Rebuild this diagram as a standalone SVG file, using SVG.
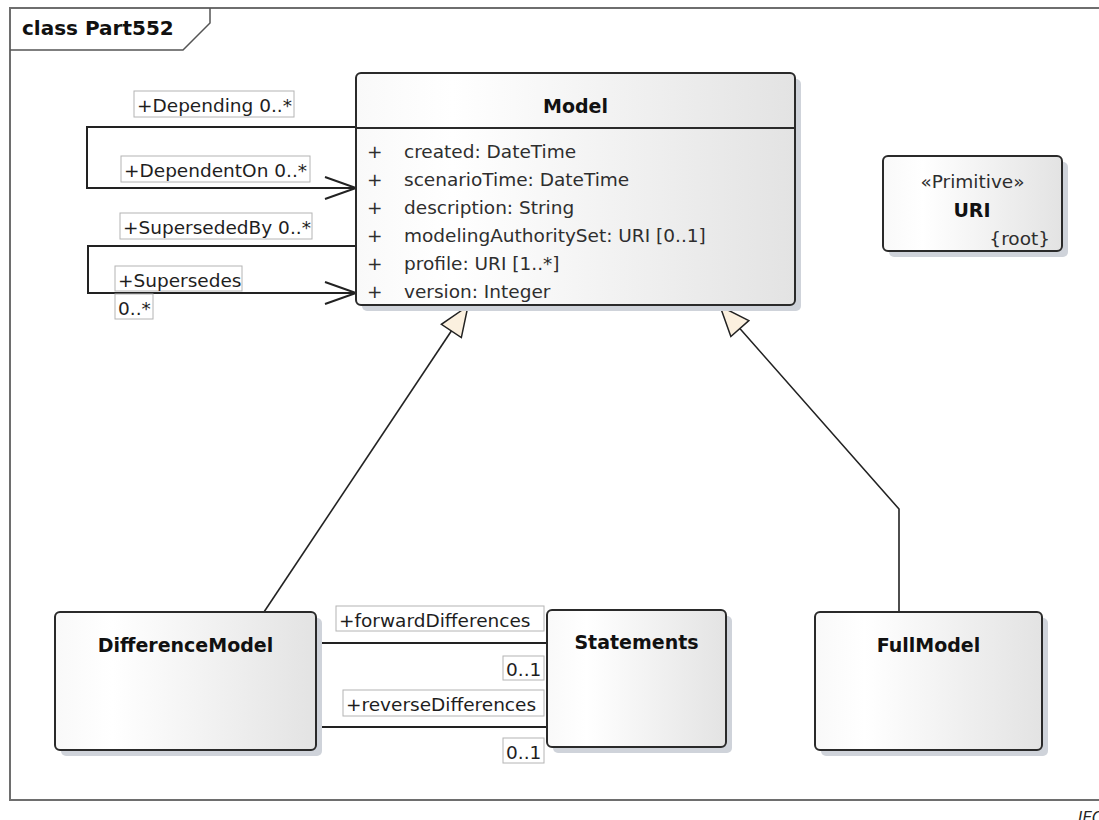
<svg xmlns="http://www.w3.org/2000/svg" width="1099" height="820" viewBox="0 0 1099 820">
  <defs>
    <linearGradient id="boxFill" x1="0" y1="0" x2="1" y2="0">
      <stop offset="0" stop-color="#f9f9f9"/>
      <stop offset="0.22" stop-color="#ffffff"/>
      <stop offset="1" stop-color="#e3e3e3"/>
    </linearGradient>
    <!-- hollow triangle for generalization -->
    <marker id="genHead" markerUnits="userSpaceOnUse" viewBox="-32 -14 34 28" refX="0" refY="0" markerWidth="34" markerHeight="28" orient="auto" overflow="visible">
      <path d="M0,0 L-30,-12 L-30,12 Z" fill="#fbf0df" stroke="#222" stroke-width="1.5" stroke-linejoin="miter"/>
    </marker>
    <!-- open arrow for navigable association ends -->
    <marker id="openHead" markerUnits="userSpaceOnUse" viewBox="-33 -13 35 26" refX="0" refY="0" markerWidth="35" markerHeight="26" orient="auto" overflow="visible">
      <path d="M-31,-11 L0,0 L-31,11" fill="none" stroke="#222" stroke-width="2"/>
    </marker>
    <style>
      .frame { fill: none; stroke: #6e6e6e; stroke-width: 2; }
      .tab { fill: none; stroke: #555; stroke-width: 1.5; }
      .shadow { fill: #cfd3da; }
      .box { fill: url(#boxFill); stroke: #2a2a2a; stroke-width: 2; }
      .sep { stroke: #2a2a2a; stroke-width: 2; }
      .title { font-family: "DejaVu Sans", Verdana, sans-serif; font-weight: bold; font-size: 19px; fill: #111; }
      .heading { font-family: "DejaVu Sans", Verdana, sans-serif; font-weight: bold; font-size: 20px; fill: #111; }
      .attr { font-family: "DejaVu Sans", Verdana, sans-serif; font-size: 18.5px; fill: #2e2e2e; }
      .lbl { font-family: "DejaVu Sans", Verdana, sans-serif; font-size: 18.5px; fill: #1e1e1e; }
      .lblbox { fill: #ffffff; stroke: #b4b4b4; stroke-width: 1; }
      .assoc { fill: none; stroke: #222; stroke-width: 2; }
      .gen { fill: none; stroke: #222; stroke-width: 1.6; }
      .mid { text-anchor: middle; }
      .note { font-family: "DejaVu Sans", Verdana, sans-serif; font-style: italic; font-size: 15px; fill: #222; }
    </style>
  </defs>

  <rect x="0" y="0" width="1099" height="820" fill="#ffffff"/>

  <!-- diagram frame with name tab -->
  <g id="frame">
    <path class="frame" d="M1102,8 L10,8 L10,800 L1102,800"/>
    <path class="tab" d="M10,50 L183,50 L210,23 L210,8"/>
    <text class="heading" x="22" y="35">class Part552</text>
  </g>

  <!-- connectors -->
  <g id="connectors">
    <polyline class="assoc" points="356,127 87,127 87,188 356,188" marker-end="url(#openHead)"/>
    <polyline class="assoc" points="356,246 88,246 88,293 356,293" marker-end="url(#openHead)"/>
    <line class="assoc" x1="316" y1="643" x2="547" y2="643"/>
    <line class="assoc" x1="316" y1="727" x2="547" y2="727"/>
    <polyline class="gen" points="264,612 468,306" marker-end="url(#genHead)"/>
    <polyline class="gen" points="899,612 899,509 720,306" marker-end="url(#genHead)"/>

    <!-- association end labels -->
    <rect class="lblbox" x="134" y="91" width="160" height="26"/>
    <text class="lbl" x="137" y="112">+Depending 0..*</text>
    <rect class="lblbox" x="121" y="156" width="189" height="26"/>
    <text class="lbl" x="124" y="177">+DependentOn 0..*</text>
    <rect class="lblbox" x="120" y="213" width="192" height="26"/>
    <text class="lbl" x="123" y="234">+SupersededBy 0..*</text>
    <rect class="lblbox" x="115" y="266" width="127" height="25"/>
    <text class="lbl" x="118" y="287">+Supersedes</text>
    <rect class="lblbox" x="115" y="294" width="38" height="25"/>
    <text class="lbl" x="118" y="315">0..*</text>

    <rect class="lblbox" x="336" y="606" width="208" height="25"/>
    <text class="lbl" x="339" y="627">+forwardDifferences</text>
    <rect class="lblbox" x="503" y="656" width="41" height="24"/>
    <text class="lbl" x="506" y="676">0..1</text>
    <rect class="lblbox" x="343" y="690" width="201" height="26"/>
    <text class="lbl" x="346" y="711">+reverseDifferences</text>
    <rect class="lblbox" x="503" y="738" width="41" height="25"/>
    <text class="lbl" x="506" y="759">0..1</text>
  </g>

  <!-- Model class -->
  <g id="Model">
    <rect class="shadow" x="362" y="79" width="439" height="232" rx="5"/>
    <rect class="box" x="356" y="73" width="439" height="232" rx="5"/>
    <line class="sep" x1="356" y1="128" x2="795" y2="128"/>
    <text class="title mid" x="575.5" y="113">Model</text>
    <g class="attr">
      <text x="367" y="158">+</text><text x="404" y="158">created: DateTime</text>
      <text x="367" y="186">+</text><text x="404" y="186">scenarioTime: DateTime</text>
      <text x="367" y="214">+</text><text x="404" y="214">description: String</text>
      <text x="367" y="242">+</text><text x="404" y="242">modelingAuthoritySet: URI [0..1]</text>
      <text x="367" y="270">+</text><text x="404" y="270">profile: URI [1..*]</text>
      <text x="367" y="298">+</text><text x="404" y="298">version: Integer</text>
    </g>
  </g>

  <!-- URI primitive -->
  <g id="URI">
    <rect class="shadow" x="889" y="162" width="179" height="95" rx="5"/>
    <rect class="box" x="883" y="156" width="179" height="95" rx="5"/>
    <text class="attr mid" x="972.5" y="188">«Primitive»</text>
    <text class="title mid" x="972" y="217">URI</text>
    <text class="attr" x="1050" y="245" text-anchor="end">{root}</text>
  </g>

  <!-- DifferenceModel class -->
  <g id="DifferenceModel">
    <rect class="shadow" x="61" y="618" width="261" height="138" rx="5"/>
    <rect class="box" x="55" y="612" width="261" height="138" rx="5"/>
    <text class="title mid" x="185.5" y="652">DifferenceModel</text>
  </g>

  <!-- Statements class -->
  <g id="Statements">
    <rect class="shadow" x="553" y="616" width="179" height="137" rx="5"/>
    <rect class="box" x="547" y="610" width="179" height="137" rx="5"/>
    <text class="title mid" x="636.5" y="649">Statements</text>
  </g>

  <!-- FullModel class -->
  <g id="FullModel">
    <rect class="shadow" x="821" y="618" width="227" height="138" rx="5"/>
    <rect class="box" x="815" y="612" width="227" height="138" rx="5"/>
    <text class="title mid" x="928.5" y="652">FullModel</text>
  </g>

  <text class="note" x="1078" y="823">IEC</text>
</svg>
